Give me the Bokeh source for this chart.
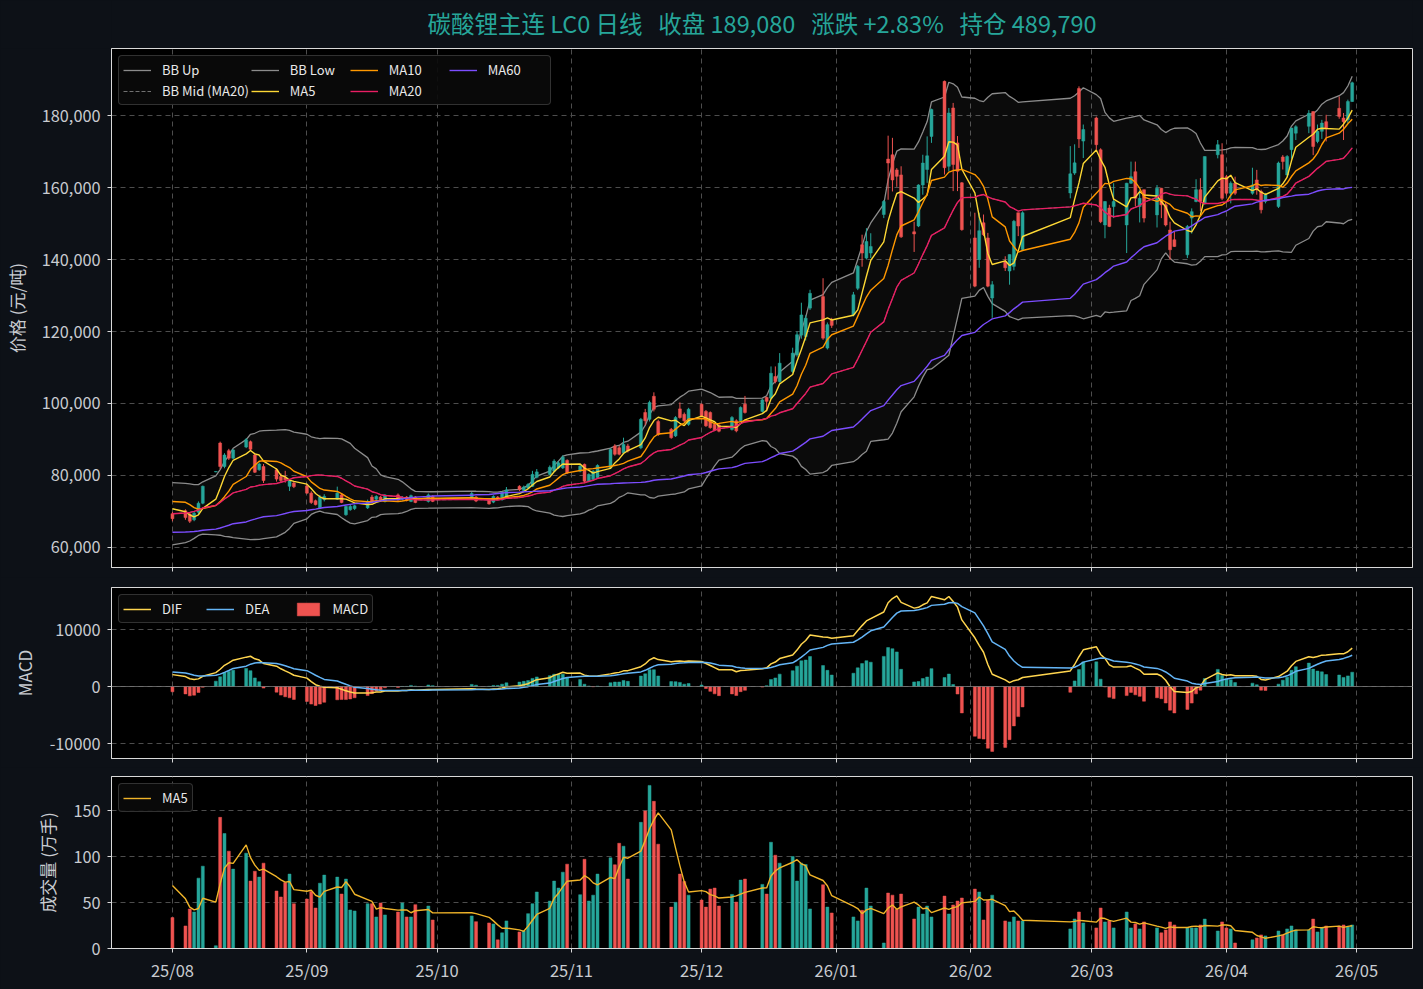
import re
import numpy as np
import pandas as pd
from datetime import datetime, timedelta
from bokeh.plotting import figure
from bokeh.models import (ColumnDataSource, Range1d, FixedTicker, DatetimeTickFormatter,
                          NumeralTickFormatter, Legend, LegendItem, SingleIntervalTicker, Span)
from bokeh.core.properties import value
from bokeh.layouts import column
from bokeh.embed import file_html
from bokeh.resources import INLINE

# ---------------- data ----------------
dates = [
    "2025-08-01", "2025-08-04", "2025-08-05", "2025-08-06", "2025-08-07", "2025-08-08", "2025-08-11", "2025-08-12", "2025-08-13", "2025-08-14", "2025-08-15", "2025-08-18", "2025-08-19", "2025-08-20", "2025-08-21", "2025-08-22", "2025-08-25", "2025-08-26", "2025-08-27", "2025-08-28", "2025-08-29",
    "2025-09-01", "2025-09-02", "2025-09-03", "2025-09-04", "2025-09-05", "2025-09-08", "2025-09-09", "2025-09-10", "2025-09-11", "2025-09-12", "2025-09-15", "2025-09-16", "2025-09-17", "2025-09-18", "2025-09-19", "2025-09-22", "2025-09-23", "2025-09-24", "2025-09-25", "2025-09-26", "2025-09-29", "2025-09-30",
    "2025-10-09", "2025-10-10", "2025-10-13", "2025-10-14", "2025-10-15", "2025-10-16", "2025-10-17", "2025-10-20", "2025-10-21", "2025-10-22", "2025-10-23", "2025-10-24", "2025-10-27", "2025-10-28", "2025-10-29", "2025-10-30", "2025-10-31",
    "2025-11-03", "2025-11-04", "2025-11-05", "2025-11-06", "2025-11-07", "2025-11-10", "2025-11-11", "2025-11-12", "2025-11-13", "2025-11-14", "2025-11-17", "2025-11-18", "2025-11-19", "2025-11-20", "2025-11-21", "2025-11-24", "2025-11-25", "2025-11-26", "2025-11-27", "2025-11-28",
    "2025-12-01", "2025-12-02", "2025-12-03", "2025-12-04", "2025-12-05", "2025-12-08", "2025-12-09", "2025-12-10", "2025-12-11", "2025-12-15", "2025-12-16", "2025-12-17", "2025-12-18", "2025-12-19", "2025-12-22", "2025-12-23", "2025-12-24", "2025-12-25", "2025-12-26", "2025-12-29", "2025-12-30", "2025-12-31",
    "2026-01-05", "2026-01-06", "2026-01-07", "2026-01-08", "2026-01-09", "2026-01-12", "2026-01-13", "2026-01-14", "2026-01-15", "2026-01-16", "2026-01-19", "2026-01-20", "2026-01-21", "2026-01-22", "2026-01-23", "2026-01-26", "2026-01-27", "2026-01-28", "2026-01-29", "2026-01-30",
    "2026-02-02", "2026-02-03", "2026-02-04", "2026-02-05", "2026-02-06", "2026-02-09", "2026-02-10", "2026-02-11", "2026-02-12", "2026-02-13", "2026-02-24", "2026-02-25", "2026-02-26", "2026-02-27",
    "2026-03-02", "2026-03-03", "2026-03-04", "2026-03-05", "2026-03-06", "2026-03-09", "2026-03-10", "2026-03-11", "2026-03-12", "2026-03-13", "2026-03-16", "2026-03-17", "2026-03-18", "2026-03-19", "2026-03-20", "2026-03-23", "2026-03-24", "2026-03-25", "2026-03-26", "2026-03-27", "2026-03-30", "2026-03-31",
    "2026-04-01", "2026-04-02", "2026-04-03", "2026-04-07", "2026-04-08", "2026-04-09", "2026-04-10", "2026-04-13", "2026-04-14", "2026-04-15", "2026-04-16", "2026-04-17", "2026-04-20", "2026-04-21", "2026-04-22", "2026-04-23", "2026-04-24", "2026-04-27", "2026-04-28", "2026-04-29", "2026-04-30",
]

opens = [
    69400, 70200, 69300, 67700, 69800, 72300, 81000, 89000, 82500, 86900, 84800, 87900, 89400, 85700, 81600, 82500, 81600, 79700, 79500, 77000, 77900,
    77100, 75100, 73000, 71000, 73300, 73400, 74600, 69100, 70500, 70800, 71000, 74000, 73400, 74000, 72800, 74600, 73400, 74000, 72800, 74000, 72800, 74200,
    73500, 74000, 73300, 72600, 74000, 73300, 74000, 77000, 75800, 76500, 77000, 79500, 80300, 81200, 82100, 82100, 84200,
    81200, 83100, 78400, 78900, 79400, 82100, 88200, 87700, 86300, 88200, 87700, 97500, 95600, 102000, 95000, 92800, 91000, 98500, 97000, 94200,
    99800, 97800, 97500, 94200, 94000, 92800, 95200, 95200, 99800, 97800, 101700, 101500, 107500, 106100, 108900, 113500, 119000, 118600, 126500, 129700, 115400, 123200,
    124600, 132000, 144100, 140400, 141800, 152500, 167900, 169100, 164900, 163500, 147700, 149300, 160700, 165000, 174200, 189500, 165900, 182100, 172400, 161300,
    146000, 140000, 150200, 146000, 129300, 139500, 136800, 138100, 153000, 142800, 158500, 164000, 187500, 172900,
    179300, 170500, 149600, 154300, 154700, 149600, 161200, 164400, 154700, 159400, 152400, 159800, 155200, 148200, 145500, 141300, 151500, 156100, 159400, 155600, 169100, 169100,
    163000, 158400, 161200, 158400, 162100, 158900, 156100, 154700, 168500, 163500, 170500, 175100, 177000, 181100, 172800, 175600, 178300, 182000, 179300, 178800, 183900,
]

highs = [
    69900, 70600, 69700, 70000, 72800, 77200, 81100, 89400, 86200, 87400, 87300, 90400, 89700, 86200, 83600, 83200, 82000, 80600, 81300, 78900, 78200,
    77700, 75600, 73300, 74600, 74800, 76900, 75100, 71600, 71800, 71900, 73300, 74600, 74500, 74300, 74800, 75000, 74300, 74300, 74700, 74300, 75000, 74500,
    75400, 74300, 73500, 74500, 74300, 75500, 76800, 77300, 77200, 77900, 81300, 81800, 82800, 84500, 84000, 85600, 84500,
    83000, 83300, 80600, 81500, 83100, 87600, 88700, 88200, 90500, 88800, 96000, 98500, 100800, 103100, 95500, 93200, 96500, 100300, 97500, 98800,
    100000, 98200, 97800, 94500, 94600, 96500, 95600, 99200, 102100, 101300, 101900, 110300, 110300, 114000, 115500, 120000, 128000, 124500, 131600, 134800, 122500, 123800,
    131000, 138500, 146900, 148700, 147300, 156500, 174400, 173800, 165400, 165900, 150500, 160900, 169100, 174200, 181900, 189700, 182100, 183500, 174300, 161500,
    153000, 153000, 152500, 147400, 134000, 140900, 141400, 151000, 153000, 153400, 171500, 172000, 188100, 177500,
    179700, 170900, 156200, 155200, 161200, 161300, 167200, 167200, 159400, 159400, 160700, 159900, 156100, 150500, 147800, 149600, 154200, 162300, 162600, 168600, 173200, 172300,
    163500, 161700, 163000, 165500, 164900, 159400, 158500, 167200, 169000, 169000, 176500, 177300, 181500, 181100, 177500, 178800, 180200, 185300, 180700, 184400, 189400,
]

lows = [
    67300, 67700, 66800, 67300, 69000, 72000, 80900, 81800, 82000, 84300, 84500, 87600, 86800, 80700, 81300, 77900, 78300, 77900, 78000, 75700, 76500,
    74900, 72100, 71700, 70700, 72800, 73200, 72300, 68800, 70200, 70400, 70700, 72300, 73000, 72900, 72500, 73000, 73100, 72800, 72600, 72300, 72500, 72600,
    73200, 72600, 71900, 72300, 73200, 73000, 73800, 75700, 75500, 76200, 76800, 79200, 80000, 81000, 81800, 81800, 80400,
    80900, 77900, 78100, 78600, 79200, 81900, 85500, 85600, 86000, 86400, 87300, 94000, 95000, 97800, 91000, 90200, 90700, 95800, 94800, 93800,
    96200, 93500, 93000, 92300, 92000, 92500, 92000, 94900, 97200, 97500, 97800, 101200, 105600, 105800, 108500, 113000, 118000, 117500, 126000, 117700, 115000, 121000,
    124200, 131500, 138000, 140000, 140400, 151500, 156600, 158900, 160200, 146000, 142100, 149000, 158000, 161300, 172400, 163600, 164500, 159000, 159000, 148000,
    132300, 137700, 146500, 132300, 123800, 136800, 133000, 137000, 146500, 142500, 157000, 163500, 171000, 168200,
    170500, 150100, 145900, 149000, 151500, 141800, 161000, 154700, 150300, 150300, 148900, 151500, 149200, 139900, 143500, 140400, 147200, 155900, 153500, 155200, 168100, 156500,
    157800, 155600, 157900, 158000, 158000, 152800, 155600, 154300, 165000, 163000, 168000, 173200, 175100, 169000, 172300, 173500, 172800, 179100, 173200, 177900, 183800,
]

closes = [
    68000, 68300, 67300, 69500, 72300, 77000, 81050, 82500, 85700, 84800, 87100, 89900, 87300, 80900, 83200, 78600, 79000, 78600, 78800, 78600, 76900,
    75100, 72500, 71900, 74000, 74200, 75100, 72500, 71400, 71400, 71600, 72800, 72800, 74200, 73200, 74600, 73200, 74000, 73100, 74400, 72500, 74600, 72800,
    75000, 72900, 72100, 74200, 73400, 75200, 76000, 76100, 76800, 77500, 80300, 81000, 82300, 84000, 83500, 85100, 80700,
    82600, 78400, 80300, 81200, 82800, 87250, 85900, 85900, 88650, 86800, 95600, 95200, 100300, 98400, 91400, 90500, 96100, 96100, 95200, 98400,
    96550, 93800, 93300, 92600, 92300, 96100, 92400, 98900, 97500, 101000, 100600, 108400, 106100, 111200, 114000, 119100, 124600, 123700, 130600, 118150, 121900, 121700,
    130200, 138100, 141800, 145000, 143600, 156100, 166800, 162100, 163100, 146300, 147100, 160700, 166800, 168800, 181700, 165500, 180700, 166400, 164500, 148300,
    132600, 148000, 146900, 132600, 133000, 137700, 141400, 150600, 149300, 153000, 163800, 166850, 173500, 176100,
    171900, 150500, 156100, 149200, 156100, 161200, 163000, 157000, 157000, 151500, 159800, 155200, 149600, 142700, 143600, 149200, 153300, 159400, 156100, 168600, 171900, 157000,
    158400, 161200, 158400, 160700, 159400, 153800, 158000, 166800, 167200, 168600, 176500, 176900, 180600, 171400, 175600, 177900, 176500, 179700, 178300, 183880, 189080,
]

volumes = [
    33.6, 24.5, 43, 39.7, 76.5, 89.5, 3, 142.6, 125, 105.8, 86.3, 103.6, 73.3, 84, 77.6, 92.8, 62.5, 56, 71.8, 80.9, 48.7,
    53.8, 62, 44, 71, 79.8, 77.6, 59.2, 75.5, 41.9, 40.8, 48.7, 48.7, 34.3, 49.5, 36.5, 39.7, 49.5, 34.3, 34.3, 47.7, 46.2, 31,
    35.4, 29.2, 27.8, 26.7, 9.4, 17, 30, 18, 19, 37.9, 48.7, 61.4, 51.6, 73.3, 65.7, 83, 91.7,
    58.5, 97, 51.6, 58, 80.9, 98.6, 91, 114.4, 111.2, 75.5, 137.2, 149.5, 177.3, 160, 113.4, 45, 50.2, 80.9, 72.9, 58,
    52.7, 45, 64.6, 65.7, 46.2, 58.8, 50.5, 74.4, 75.5, 69.7, 59.2, 115.5, 101.4, 92.8, 100, 73.3, 92.8, 91.3, 43, 69.3, 45, 38.6,
    34.3, 30, 41.5, 65.7, 46.2, 6, 60.3, 58, 42.6, 59.2, 32.1, 45, 37.5, 46.2, 34.3, 57, 37.5, 47.3, 51.6, 54.9,
    64.6, 61.4, 31, 52.7, 58, 30, 28.9, 34.3, 30, 30, 21.3, 32.1, 39.7, 27.8,
    22.4, 44, 28.9, 30, 22.4, 39.7, 22.4, 26.7, 21.3, 28.9, 22.4, 17, 20.2, 28.9, 25.6, 22.4, 22.4, 22.4, 25.6, 32, 19, 28.9,
    22.4, 21.3, 6, 9.4, 11.5, 14.8, 13.7, 19, 14.8, 21.3, 24.5, 20.2, 20.2, 32, 18, 22.4, 24.5, 24.5, 25.6, 23.5, 25.6,
]

# closes of the trading days before the first shown day (used only to warm up the indicators)
warmup_close = [
    65000, 64500, 64000, 64300, 63700, 63300, 63000, 62800, 61900, 61500, 61000, 61200, 60800, 60500, 60300, 60600,
    60900, 61200, 60700, 60400, 60100, 59800, 60200, 60600, 60300, 59900, 59600, 59400, 59800, 60300, 60900, 61500, 62000, 62300, 62700, 63000,
    63400, 63200, 63600, 63600,
    63700, 64300, 64000, 64500, 65600, 66300, 66400, 66500, 68700, 69400,
    70500, 74000, 77500, 77000, 75000,
    72500, 71800, 72000, 69500,
]
warmup_volume = [97, 88, 55, 69]

open_interest = 489790
month_ticks = ["2025-08-01", "2025-09-01", "2025-10-01", "2025-11-01", "2025-12-01",
               "2026-01-01", "2026-02-01", "2026-03-01", "2026-04-01", "2026-05-01"]

assert len(dates) == len(opens) == len(highs) == len(lows) == len(closes) == len(volumes)

# ---------------- indicators ----------------
n0 = len(warmup_close)
allc = pd.Series(warmup_close + closes, dtype=float)
ma5 = allc.rolling(5, min_periods=1).mean().values[n0:]
ma10 = allc.rolling(10, min_periods=1).mean().values[n0:]
ma20 = allc.rolling(20, min_periods=1).mean().values[n0:]
ma60 = allc.rolling(60, min_periods=1).mean().values[n0:]
sd20 = allc.rolling(20, min_periods=2).std().values[n0:]
bb_up = ma20 + 2 * sd20
bb_low = ma20 - 2 * sd20
ema12 = allc.ewm(span=12, adjust=False).mean()
ema26 = allc.ewm(span=26, adjust=False).mean()
dif_s = ema12 - ema26
dea_s = dif_s.ewm(span=9, adjust=False).mean()
dif = dif_s.values[n0:]
dea = dea_s.values[n0:]
hist = 2 * (dif - dea)
nv = len(warmup_volume)
vma5 = pd.Series(warmup_volume + volumes, dtype=float).rolling(5, min_periods=1).mean().values[nv:]

# ---------------- styling ----------------
BG = "#0d1117"
UP = "#26a69a"
DN = "#ef5350"
TXT = "#c9ccd1"
FONT = "Noto Sans CJK SC"
GRID = "#4d4d4d"
DAY = 86400000
W = 1423
LEFT, RIGHT = 110, 11
TITLE_H = 48

x = pd.to_datetime(dates)
o = np.array(opens, float); c = np.array(closes, float)
h = np.array(highs, float); l = np.array(lows, float)
up = c >= o
col = np.where(up, UP, DN)
body_lo = np.minimum(o, c)
body_hi = np.maximum(np.maximum(o, c), body_lo + 120)

src = ColumnDataSource(dict(
    x=x, o=o, c=c, h=np.maximum(h, body_hi), l=np.minimum(l, body_lo), bt=body_hi, bb=body_lo,
    col=col, vol=volumes, vma5=vma5, ma5=ma5, ma10=ma10, ma20=ma20, ma60=ma60,
    bbu=bb_up, bbl=bb_low, dif=dif, dea=dea, hist=hist, hcol=np.where(hist >= 0, UP, DN),
))

t0 = datetime(2025, 8, 1)
xr = Range1d(start=t0 - timedelta(days=14.05), end=t0 + timedelta(days=285.9))
month_ms = [pd.Timestamp(m).value // 10**6 for m in month_ticks]


def make_fig(height, yr, mb_top, mb_bottom):
    p = figure(width=W, height=height, x_range=xr, y_range=yr, x_axis_type="datetime",
               output_backend="svg", toolbar_location=None, tools="",
               min_border_left=LEFT, min_border_right=RIGHT, min_border_top=mb_top, min_border_bottom=mb_bottom,
               background_fill_color="#000000", border_fill_color=BG,
               outline_line_color="#d9d9d9", outline_line_width=1)
    p.xaxis.ticker = FixedTicker(ticks=month_ms)
    p.xgrid.ticker = FixedTicker(ticks=month_ms)
    p.xaxis.formatter = DatetimeTickFormatter(months="%y/%m", days="%y/%m", years="%y/%m")
    for ax in p.axis:
        ax.axis_line_color = "#d9d9d9"
        ax.major_tick_line_color = "#d9d9d9"
        ax.major_tick_out = 4
        ax.major_tick_in = 0
        ax.minor_tick_line_color = None
        ax.major_label_text_color = TXT
        ax.major_label_text_font = FONT
        ax.major_label_text_font_size = "16.3px"
        ax.axis_label_text_color = TXT
        ax.axis_label_text_font = FONT
        ax.axis_label_text_font_size = "17px"
        ax.axis_label_text_font_style = "normal"
        ax.axis_label_standoff = 10
        ax.major_label_standoff = 7
    p.xaxis.major_label_text_font_size = "16.5px"
    p.xaxis.major_label_standoff = 5
    p.grid.grid_line_color = GRID
    p.grid.grid_line_dash = "5 4"
    p.grid.grid_line_width = 1
    return p


def hide_xlabels(p):
    p.xaxis.major_label_text_color = None
    p.xaxis.major_label_text_font_size = "1px"
    p.xaxis.major_label_standoff = 0


def style_legend(lg):
    lg.background_fill_color = "#0a0a0a"
    lg.background_fill_alpha = 0.9
    lg.border_line_color = "#5a5a5a"
    lg.border_line_width = 1.5
    if "border_radius" in lg.properties():
        lg.border_radius = 4
    lg.label_text_color = "#e8e8e8"
    lg.label_text_font = FONT
    lg.label_text_font_size = "13px"
    lg.glyph_width = 28
    lg.glyph_height = 16
    lg.label_standoff = 11
    lg.padding = 4
    lg.spacing = 2
    lg.margin = 7
    lg.location = "top_left"


# ---------------- title strip ----------------
pct = (closes[-1] / closes[-2] - 1) * 100
sp = "\u00a0\u00a0\u00a0"
title_text = f"碳酸锂主连 LC0 日线{sp}收盘 {closes[-1]:,}{sp}涨跌 {pct:+.2f}%{sp}持仓 {open_interest:,}"
pt = figure(width=W, height=TITLE_H, x_range=Range1d(LEFT, W - RIGHT), y_range=Range1d(0, TITLE_H),
            output_backend="svg", toolbar_location=None, tools="",
            min_border_left=LEFT, min_border_right=RIGHT, min_border_top=0, min_border_bottom=0,
            background_fill_color=BG, border_fill_color=BG, outline_line_color=None,
            x_axis_location=None, y_axis_location=None)
pt.grid.visible = False
pt.text(x=[(LEFT + W - RIGHT) / 2], y=[TITLE_H - 22], text=[title_text],
        text_align="center", text_baseline="middle", text_color=UP,
        text_font=value(FONT), text_font_size="23.5px")

# ---------------- price panel ----------------
MAIN_H = 519
p1 = make_fig(MAIN_H + 10, Range1d(54440, 198620), 0, 10)
hide_xlabels(p1)
p1.yaxis.ticker = SingleIntervalTicker(interval=20000)
p1.yaxis.formatter = NumeralTickFormatter(format="0,0")
p1.yaxis.axis_label = "价格 (元/吨)"

p1.varea(x="x", y1="bbl", y2="bbu", source=src, fill_color="#ffffff", fill_alpha=0.045)
r_up = p1.line("x", "bbu", source=src, line_color="#8c8c8c", line_width=1.3)
r_low = p1.line("x", "bbl", source=src, line_color="#8c8c8c", line_width=1.3)
r_mid = p1.line("x", "ma20", source=src, line_color="#9a9a9a", line_width=0.9, line_dash="4 2", line_alpha=0.8)
p1.segment(x0="x", y0="l", x1="x", y1="h", source=src, line_color="col", line_width=1)
p1.vbar(x="x", width=0.68 * DAY, top="bt", bottom="bb", source=src, fill_color="col", line_color="col", line_width=0.5)
r5 = p1.line("x", "ma5", source=src, line_color="#fdd835", line_width=1.4)
r10 = p1.line("x", "ma10", source=src, line_color="#ff9800", line_width=1.4)
r20 = p1.line("x", "ma20", source=src, line_color="#e91e63", line_width=1.4)
r60 = p1.line("x", "ma60", source=src, line_color="#7c4dff", line_width=1.4)

lg1 = Legend(items=[
    LegendItem(label="BB Up", renderers=[r_up]),
    LegendItem(label="BB Mid (MA20)", renderers=[r_mid]),
    LegendItem(label="BB Low", renderers=[r_low]),
    LegendItem(label="MA5", renderers=[r5]),
    LegendItem(label="MA10", renderers=[r10]),
    LegendItem(label="MA20", renderers=[r20]),
    LegendItem(label="MA60", renderers=[r60]),
], orientation="vertical", nrows=2)
style_legend(lg1)
lg1.label_width = 58
p1.add_layout(lg1)

# ---------------- MACD panel ----------------
p2 = make_fig(190, Range1d(-12630, 17370), 10, 9)
hide_xlabels(p2)
p2.yaxis.ticker = FixedTicker(ticks=[-10000, 0, 10000])
p2.yaxis.formatter = NumeralTickFormatter(format="0")
p2.yaxis.axis_label = "MACD"
p2.add_layout(Span(location=0, dimension="width", line_color="#777777", line_width=0.8))
rh = p2.vbar(x="x", width=0.68 * DAY, top="hist", bottom=0, source=src, fill_color="hcol", line_color="hcol", line_width=0.5)
rdif = p2.line("x", "dif", source=src, line_color="#ffd54f", line_width=1.5)
rdea = p2.line("x", "dea", source=src, line_color="#64b5f6", line_width=1.5)
neg_idx = int(np.argmax(hist < 0))
lg2 = Legend(items=[
    LegendItem(label="DIF", renderers=[rdif]),
    LegendItem(label="DEA", renderers=[rdea]),
    LegendItem(label="MACD", renderers=[rh], index=neg_idx),
], orientation="horizontal")
style_legend(lg2)
lg2.spacing = 24
p2.add_layout(lg2)

# ---------------- volume panel ----------------
p3 = make_fig(222, Range1d(0, 187), 9, 41)
p3.yaxis.ticker = SingleIntervalTicker(interval=50)
p3.yaxis.axis_label = "成交量 (万手)"
p3.vbar(x="x", width=0.68 * DAY, top="vol", bottom=0, source=src, fill_color="col", line_color="col", line_width=0.5)
rv = p3.line("x", "vma5", source=src, line_color="#f0b429", line_width=1.4)
lg3 = Legend(items=[LegendItem(label="MA5", renderers=[rv])])
style_legend(lg3)
p3.add_layout(lg3)

layout = column(pt, p1, p2, p3, spacing=0)
html = file_html(layout, INLINE)
page_css = "<style>html, body { background-color: #0d1117 !important; }</style>"
if "</head>" in html:
    html = html.replace("</head>", page_css + "</head>", 1)
html = re.sub(r"<body([^>]*)>", r'<body\1 style="background-color:#0d1117;">', html, count=1)
open("out.html", "w").write(html)
